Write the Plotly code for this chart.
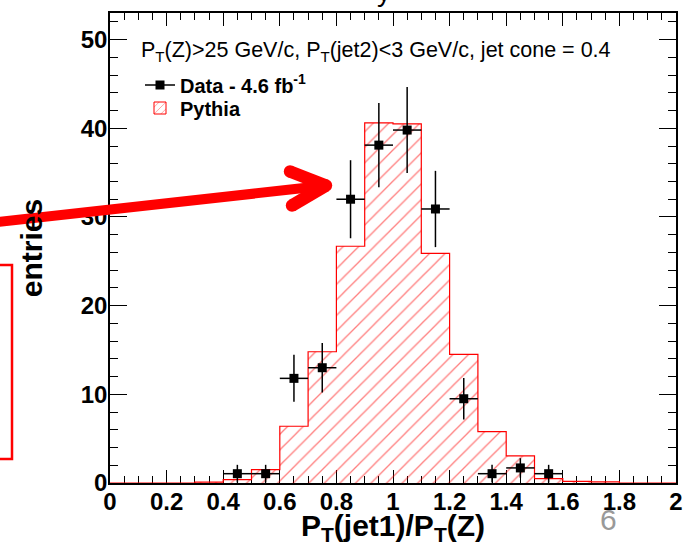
import plotly.graph_objects as go

# ---- data ----
bin_edges = [0.0, 0.1, 0.2, 0.3, 0.4, 0.5, 0.6, 0.7, 0.8, 0.9, 1.0,
             1.1, 1.2, 1.3, 1.4, 1.5, 1.6, 1.7, 1.8, 1.9, 2.0]
pythia_counts = [0.0, 0.0, 0.0, 0.1, 0.38, 1.5, 6.4, 14.8, 26.7, 40.6,
                 40.5, 25.9, 14.5, 5.8, 3.05, 0.5, 0.19, 0.12, 0.0, 0.0]

data_x = [0.45, 0.55, 0.65, 0.75, 0.85, 0.95, 1.05, 1.15, 1.25, 1.35, 1.45, 1.55]
data_y = [1.05, 1.05, 11.8, 13.0, 32.0, 38.1, 39.8, 30.9, 9.5, 1.05, 1.7, 1.05]
data_err = [1.0, 1.0, 2.65, 2.8, 4.4, 4.75, 4.85, 4.3, 2.35, 1.0, 1.1, 1.0]
half_bin = 0.05

x_tickvals = [0, 0.2, 0.4, 0.6, 0.8, 1.0, 1.2, 1.4, 1.6, 1.8, 2.0]
x_ticktext = ["0", "0.2", "0.4", "0.6", "0.8", "1", "1.2", "1.4", "1.6", "1.8", "2"]
y_tickvals = [0, 10, 20, 30, 40, 50]

FONT = "Liberation Sans, Arial, Helvetica, sans-serif"
W, H = 693, 542
ML, MR, MT, MB = 110, 17, 13, 59
PW, PH = W - ML - MR, H - MT - MB


def px(xp):
    return (xp - ML) / PW


def py(yp):
    return (H - MB - yp) / PH


fig = go.Figure()

# Pythia histogram (step outline + hatched fill)
fig.add_trace(go.Scatter(
    x=bin_edges,
    y=pythia_counts + [pythia_counts[-1]],
    mode="lines",
    line=dict(color="#ff0000", width=1.2, shape="hv"),
    fill="tozeroy",
    fillcolor="rgba(0,0,0,0)",
    fillpattern=dict(shape="/", fgcolor="#ff0000", bgcolor="rgba(0,0,0,0)",
                     size=11, solidity=0.12),
    showlegend=False,
    hoverinfo="skip",
))

# Data points
fig.add_trace(go.Scatter(
    x=data_x, y=data_y,
    mode="markers",
    marker=dict(symbol="square", size=9, color="black"),
    error_y=dict(type="data", array=data_err, visible=True,
                 color="black", thickness=1.5, width=0),
    error_x=dict(type="constant", value=half_bin, visible=True,
                 color="black", thickness=1.5, width=0),
    showlegend=False,
))

# legend keys (each in its own legend box so the spacing can match)
fig.add_trace(go.Scatter(
    x=[None], y=[None], mode="lines+markers",
    name="Data - 4.6 fb<sup>-1</sup>",
    marker=dict(symbol="square", size=9, color="black"),
    line=dict(color="black", width=1.5),
    legend="legend",
))
fig.add_trace(go.Bar(
    x=[None], y=[None], name="Pythia",
    marker=dict(color="rgba(0,0,0,0)",
                pattern=dict(shape="/", fgcolor="#ff0000",
                             bgcolor="rgba(0,0,0,0)", size=6, solidity=0.15),
                line=dict(color="#ff0000", width=1)),
    legend="legend2",
))

axis_common = dict(
    showline=True, linecolor="black", linewidth=1.5,
    mirror="allticks", ticks="inside", tickcolor="black", tickwidth=1,
    showgrid=False, zeroline=False,
    tickfont=dict(family=FONT, size=24, color="black", weight="bold"),
)

legend_font = dict(family=FONT, size=20, color="black", weight="bold")

fig.update_layout(
    width=W, height=H,
    margin=dict(l=ML, r=MR, t=MT, b=MB, autoexpand=False),
    paper_bgcolor="white", plot_bgcolor="white",
    font=dict(family=FONT, color="black"),
    xaxis=dict(
        range=[0, 2], tickvals=x_tickvals, ticktext=x_ticktext,
        ticklen=13, ticklabelstandoff=-4,
        minor=dict(dtick=0.05, ticklen=7, ticks="inside", tickcolor="black",
                   tickwidth=1, showgrid=False),
        layer="below traces",
        **axis_common,
    ),
    yaxis=dict(
        range=[0, 53], tickvals=y_tickvals, ticklen=17, ticklabelstandoff=-4,
        minor=dict(dtick=2, ticklen=8, ticks="inside", tickcolor="black",
                   tickwidth=1, showgrid=False),
        title=dict(text="entries",
                   font=dict(family=FONT, size=30, color="black", weight="bold"),
                   standoff=29),
        **axis_common,
    ),
    legend=dict(
        x=px(140), y=py(85), xanchor="left", yanchor="middle",
        bgcolor="rgba(0,0,0,0)", borderwidth=0, font=legend_font,
    ),
    legend2=dict(
        x=px(140), y=py(108), xanchor="left", yanchor="middle",
        bgcolor="rgba(0,0,0,0)", borderwidth=0, font=legend_font,
    ),
    showlegend=True,
)

# x-axis title (placed as an annotation so it can sit at the slide's bottom edge)
fig.add_annotation(
    x=0.5, y=py(527), xref="paper", yref="paper",
    xanchor="center", yanchor="middle", showarrow=False,
    text="P<sub>T</sub>(jet1)/P<sub>T</sub>(Z)",
    font=dict(family=FONT, size=30, color="black", weight="bold"),
)

# header text
fig.add_annotation(
    x=px(139), y=py(52), xref="paper", yref="paper",
    xanchor="left", yanchor="middle", showarrow=False,
    text="P<sub>T</sub>(Z)&gt;25 GeV/c, P<sub>T</sub>(jet2)&lt;3 GeV/c, jet cone = 0.4",
    font=dict(family=FONT, size=21.5, color="black"),
)

# page number
fig.add_annotation(
    x=px(608), y=py(519), xref="paper", yref="paper",
    xanchor="center", yanchor="middle", showarrow=False,
    text="6", font=dict(family=FONT, size=30, color="#999999"),
)

# fragment of a cut-off slide title at the very top
fig.add_annotation(
    x=px(384), y=py(-9), xref="paper", yref="paper",
    xanchor="center", yanchor="middle", showarrow=False,
    text="y", font=dict(family=FONT, size=28, color="black"),
)

# red overlay: arrow and box on the slide
RED = "#ff0000"
shapes = []
shapes.append(dict(type="line", xref="paper", yref="paper",
                   x0=px(-6), y0=py(222.5), x1=px(322), y1=py(186),
                   line=dict(color=RED, width=10)))
for (ax, ay) in [(290, 171.5), (292, 205.5)]:
    shapes.append(dict(type="line", xref="paper", yref="paper",
                       x0=px(ax), y0=py(ay), x1=px(326), y1=py(185.5),
                       line=dict(color=RED, width=12.5)))
    r = 6.2
    shapes.append(dict(type="circle", xref="paper", yref="paper",
                       x0=px(ax - r), x1=px(ax + r), y0=py(ay + r), y1=py(ay - r),
                       fillcolor=RED, line=dict(width=0)))
r = 6.2
shapes.append(dict(type="circle", xref="paper", yref="paper",
                   x0=px(326 - r), x1=px(326 + r), y0=py(185.5 + r), y1=py(185.5 - r),
                   fillcolor=RED, line=dict(width=0)))
shapes.append(dict(type="rect", xref="paper", yref="paper",
                   x0=px(-20), x1=px(12), y0=py(459), y1=py(265),
                   line=dict(color=RED, width=2.5), fillcolor="rgba(0,0,0,0)"))
fig.update_layout(shapes=shapes)

fig.write_html("out.html",
               config={"displayModeBar": False},
               post_script="document.body.style.margin='0px';"
                           "document.body.style.overflow='hidden';")
